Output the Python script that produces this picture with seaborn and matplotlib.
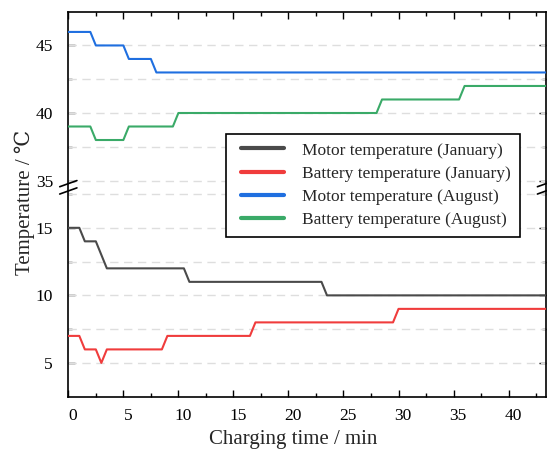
import numpy as np
import pandas as pd
import matplotlib
matplotlib.use("Agg")
import matplotlib.pyplot as plt
from matplotlib.transforms import ScaledTranslation
from matplotlib.lines import Line2D
from matplotlib.legend_handler import HandlerLine2D
import seaborn as sns

# ---- data: breakpoints of each temperature trace (time in min, temperature in degC)
motor_jan_t = [0, 1, 1.5, 2.5, 3.5, 10.5, 11, 23, 23.5, 43.5]
motor_jan_v = [15, 15, 14, 14, 12, 12, 11, 11, 10, 10]

battery_jan_t = [0, 1, 1.5, 2.5, 3, 3.5, 8.5, 9, 16.5, 17, 29.5, 30, 43.5]
battery_jan_v = [7, 7, 6, 6, 5, 6, 6, 7, 7, 8, 8, 9, 9]

motor_aug_t = [0, 2, 2.5, 5, 5.5, 7.5, 8, 43.5]
motor_aug_v = [46, 46, 45, 45, 44, 44, 43, 43]

battery_aug_t = [0, 2, 2.5, 5, 5.5, 9.5, 10, 28, 28.5, 35.5, 36, 43.5]
battery_aug_v = [39, 39, 38, 38, 39, 39, 40, 40, 41, 41, 42, 42]

series_names = [
    "Motor temperature (January)",
    "Battery temperature (January)",
    "Motor temperature (August)",
    "Battery temperature (August)",
]
series_colors = ["#4a4a4a", "#f03c3c", "#1f6fe0", "#3aaa68"]

x_ticks = [0, 5, 10, 15, 20, 25, 30, 35, 40]
y_major = [5, 10, 15, 35, 40, 45]
y_minor = [7.5, 12.5, 17.5, 37.5, 42.5]

frames = []
for name, t, v in zip(series_names,
                      [motor_jan_t, battery_jan_t, motor_aug_t, battery_aug_t],
                      [motor_jan_v, battery_jan_v, motor_aug_v, battery_aug_v]):
    frames.append(pd.DataFrame({"time": t, "temp": v, "series": name}))
df = pd.concat(frames, ignore_index=True)

# ---- broken y scale: 17.5..35 squeezed into one unit
LOW_TOP, HIGH_BOT, GAP = 17.5, 35.0, 1.0
SPAN = HIGH_BOT - LOW_TOP


def fwd(y):
    y = np.asarray(y, dtype=float)
    return np.where(y <= LOW_TOP, y,
                    np.where(y >= HIGH_BOT, y - SPAN + GAP,
                             LOW_TOP + (y - LOW_TOP) * GAP / SPAN))


def inv(t):
    t = np.asarray(t, dtype=float)
    return np.where(t <= LOW_TOP, t,
                    np.where(t >= LOW_TOP + GAP, t + SPAN - GAP,
                             LOW_TOP + (t - LOW_TOP) * SPAN / GAP))


class InsetLineHandler(HandlerLine2D):
    """Legend line that starts a little to the right of the handle box."""

    def __init__(self, inset=5.0, **kw):
        super().__init__(**kw)
        self.inset = inset

    def create_artists(self, legend, orig_handle, xdescent, ydescent, width,
                       height, fontsize, trans):
        return super().create_artists(legend, orig_handle, xdescent - self.inset,
                                      ydescent, width - self.inset, height,
                                      fontsize, trans)


sns.set_style("ticks")
plt.rcParams["font.family"] = ["Liberation Serif", "DejaVu Serif"]

fig = plt.figure(figsize=(5.47, 4.49), dpi=100)
ax = fig.add_axes([0.1249, 0.1165, 0.8733, 0.8575])
ax.set_yscale("function", functions=(fwd, inv))

sns.lineplot(data=df, x="time", y="temp", hue="series", hue_order=series_names,
             palette=series_colors, estimator=None, sort=False, linewidth=1.5,
             legend=False, ax=ax, zorder=3)

ax.set_xlim(0, 43.4)
ax.set_ylim(2.5, 47.5)
ax.set_xticks(x_ticks)
ax.set_xticks(np.arange(2.5, 43.4, 5), minor=True)
ax.set_yticks(y_major)
ax.set_yticks(y_minor, minor=True)
ax.set_yticklabels([str(v) for v in y_major])
ax.set_xticklabels([str(v) for v in x_ticks])

for yv in y_major + y_minor:
    ax.axhline(yv, color="#dedede", lw=1.0, ls=(0, (6, 4)), zorder=1)

for s in ax.spines.values():
    s.set_color("black")
    s.set_linewidth(1.2)
ax.tick_params(which="both", direction="in", top=True, right=True,
               colors="black", labelsize=12.5)
ax.tick_params(which="major", length=5, width=1.0)
ax.tick_params(which="minor", length=3, width=1.0)
ax.tick_params(axis="x", pad=8)
ax.tick_params(axis="y", pad=11)

for lbl in ax.get_xticklabels():
    lbl.set_transform(lbl.get_transform() + ScaledTranslation(0.045, 0, fig.dpi_scale_trans))

ax.set_xlabel("Charging time / min", fontsize=15)
ax.set_ylabel("Temperature / \u2103", fontsize=15)
ax.xaxis.set_label_coords(0.47, -0.086)
ax.yaxis.set_label_coords(-0.07, 0.505)

# break marks on both vertical spines
yc = (LOW_TOP + GAP / 2 - 2.5) / (47.5 - 2.5 - SPAN + GAP)
for xc in (0.0, 1.0):
    for dy in (0.0095, -0.0095):
        ax.plot([xc - 0.018, xc + 0.018], [yc + dy - 0.008, yc + dy + 0.008],
                transform=ax.transAxes, color="black", lw=1.2, clip_on=False, zorder=5)

handles = [Line2D([], [], color=c, lw=3) for c in series_colors]
leg = ax.legend(handles, series_names, loc="upper left", bbox_to_anchor=(0.3295, 0.683),
                borderaxespad=0, frameon=True, fancybox=False, fontsize=12.5,
                handlelength=2.85, handletextpad=1.05, labelspacing=0.4,
                borderpad=0.5,
                handler_map={Line2D: InsetLineHandler(inset=5.0)})
leg.get_frame().set_edgecolor("black")
leg.get_frame().set_linewidth(1.2)
leg.get_frame().set_alpha(1)
leg.set_zorder(6)

fig.savefig("out.png", dpi=100)
